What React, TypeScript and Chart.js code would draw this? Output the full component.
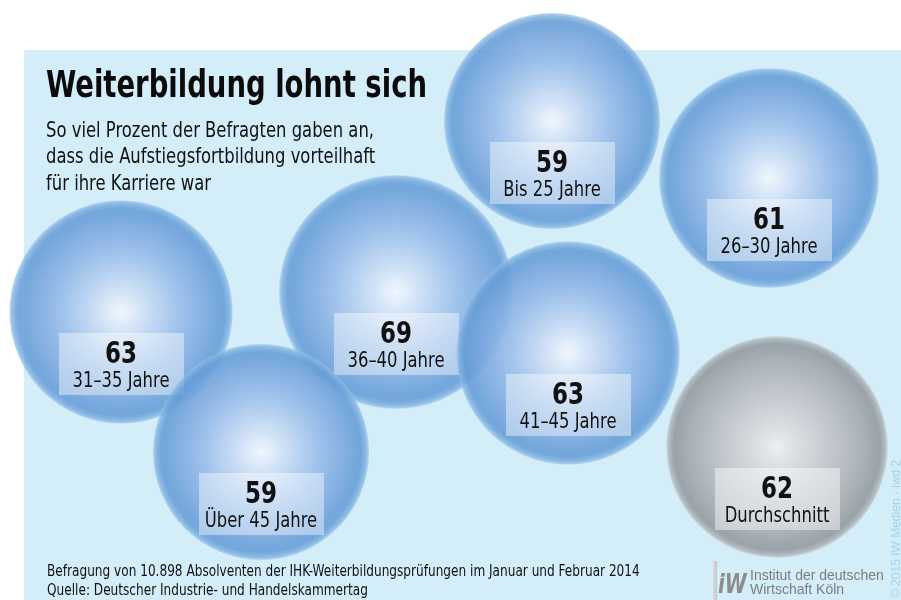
import React, { useEffect, useRef } from "react";
import { Chart, registerables } from "chart.js";

Chart.register(...registerables);

// ---------- data ----------
const categories = [
  "Bis 25 Jahre",
  "26–30 Jahre",
  "31–35 Jahre",
  "36–40 Jahre",
  "Über 45 Jahre",
  "41–45 Jahre",
  "Durchschnitt",
];
const values = [59, 61, 63, 69, 59, 63, 62];
const isAverage = [false, false, false, false, false, false, true];
// bubble centre positions in the 901 x 600 layout space
const posX = [552, 769, 121, 396, 261, 568, 777];
const posY = [121, 178, 312, 292, 452, 353, 447];

const title = "Weiterbildung lohnt sich";
const subtitleLines = [
  "So viel Prozent der Befragten gaben an,",
  "dass die Aufstiegsfortbildung vorteilhaft",
  "für ihre Karriere war",
];
const footnoteLines = [
  "Befragung von 10.898 Absolventen der IHK-Weiterbildungsprüfungen im Januar und Februar 2014",
  "Quelle: Deutscher Industrie- und Handelskammertag",
];
const logoLines = ["Institut der deutschen", "Wirtschaft Köln"];
const copyright = "© 2015 IW Medien · iwd 2";

// ---------- styling ----------
const W = 901;
const H = 600;
const RADIUS_K = 14.06; // bubble area proportional to value
const CONDENSED = '"Liberation Sans Narrow", "DejaVu Sans Condensed", "Liberation Sans", sans-serif';
const ARIAL = '"Liberation Sans", Arial, sans-serif';
const PANEL = "#d3edf9";

const radiusFor = (v: number) => RADIUS_K * Math.sqrt(v);

function drawScaled(
  ctx: CanvasRenderingContext2D,
  text: string,
  x: number,
  y: number,
  font: string,
  sx: number,
  align: "left" | "center" = "left"
) {
  ctx.save();
  ctx.font = font;
  const w = ctx.measureText(text).width * sx;
  const left = align === "center" ? x - w / 2 : x;
  ctx.translate(left, y);
  ctx.scale(sx, 1);
  ctx.textAlign = "left";
  ctx.textBaseline = "alphabetic";
  ctx.fillText(text, 0, 0);
  ctx.restore();
  return w;
}

function factors(ctx: CanvasRenderingContext2D) {
  ctx.save();
  ctx.font = `bold 37px ${CONDENSED}`;
  const bold = 381 / ctx.measureText(title).width;
  ctx.font = `21px ${CONDENSED}`;
  const reg = 328 / ctx.measureText(subtitleLines[0]).width;
  ctx.restore();
  return { bold, reg };
}

const BLUE_STOPS: [number, string][] = [
  [0.0, "rgba(241,247,253,0.97)"],
  [0.1, "rgba(224,236,250,0.95)"],
  [0.3, "rgba(192,214,242,0.93)"],
  [0.55, "rgba(152,189,233,0.92)"],
  [0.78, "rgba(122,168,222,0.9)"],
  [0.88, "rgba(107,160,217,0.9)"],
  [0.93, "rgba(102,157,214,0.88)"],
  [0.975, "rgba(124,174,223,0.8)"],
  [1.0, "rgba(150,193,232,0.6)"],
];
const GRAY_STOPS: [number, string][] = [
  [0.0, "rgba(238,241,243,1)"],
  [0.1, "rgba(226,230,233,1)"],
  [0.3, "rgba(208,213,217,0.97)"],
  [0.55, "rgba(188,193,198,0.95)"],
  [0.78, "rgba(168,174,179,0.94)"],
  [0.88, "rgba(155,162,168,0.93)"],
  [0.93, "rgba(149,156,163,0.92)"],
  [0.975, "rgba(170,176,182,0.85)"],
  [1.0, "rgba(195,200,205,0.65)"],
];

function bubbleFill(c: any) {
  const chart = c.chart;
  const raw = c.raw;
  const i = c.datasetIndex;
  const fallback = isAverage[i] ? "rgba(180,186,191,0.9)" : "rgba(140,182,228,0.88)";
  if (!raw || !chart.scales || !chart.scales.x || !chart.scales.y) return fallback;
  const x = chart.scales.x.getPixelForValue(raw.x);
  const y = chart.scales.y.getPixelForValue(raw.y);
  const r = radiusFor(values[i]);
  if (!isFinite(x) || !isFinite(y) || !isFinite(r)) return fallback;
  const g = chart.ctx.createRadialGradient(x, y, 0, x, y, r);
  (isAverage[i] ? GRAY_STOPS : BLUE_STOPS).forEach(([o, col]) => g.addColorStop(o, col));
  return g;
}

const decorPlugin = {
  id: "decor",
  beforeDraw(chart: any) {
    const ctx: CanvasRenderingContext2D = chart.ctx;
    ctx.save();
    ctx.fillStyle = "#ffffff";
    ctx.fillRect(0, 0, W, H);
    ctx.fillStyle = PANEL;
    ctx.fillRect(24, 50, W - 24, H - 50);
    ctx.restore();
  },
  afterDatasetDraw(chart: any, args: any) {
    const i = args.index;
    const ctx: CanvasRenderingContext2D = chart.ctx;
    const { bold, reg } = factors(ctx);
    const cx = chart.scales.x.getPixelForValue(posX[i]);
    const cy = chart.scales.y.getPixelForValue(posY[i]);
    ctx.save();
    ctx.font = `21px ${CONDENSED}`;
    const lw = ctx.measureText(categories[i]).width * reg;
    const bw = Math.max(125, lw + 10);
    const top = cy + 21;
    ctx.fillStyle = isAverage[i] ? "rgba(255,255,255,0.45)" : "rgba(255,255,255,0.42)";
    ctx.fillRect(Math.round(cx - bw / 2), Math.round(top), Math.round(bw), 62);
    ctx.fillStyle = "#111111";
    drawScaled(ctx, String(values[i]), cx, top + 30, `bold 31px ${CONDENSED}`, bold, "center");
    drawScaled(ctx, categories[i], cx, top + 54, `21px ${CONDENSED}`, reg, "center");
    ctx.restore();
  },
  afterDraw(chart: any) {
    const ctx: CanvasRenderingContext2D = chart.ctx;
    const { bold, reg } = factors(ctx);
    ctx.save();
    ctx.fillStyle = "#0b0b0b";
    drawScaled(ctx, title, 46, 97, `bold 37px ${CONDENSED}`, bold);
    ctx.fillStyle = "#111111";
    subtitleLines.forEach((t, k) => drawScaled(ctx, t, 46, 137 + k * 26.3, `21px ${CONDENSED}`, reg));
    footnoteLines.forEach((t, k) => drawScaled(ctx, t, 47, 576 + k * 19, `15.5px ${CONDENSED}`, reg));

    // logo
    const bar = ctx.createLinearGradient(713, 0, 718, 0);
    bar.addColorStop(0, "#dcdcdc");
    bar.addColorStop(1, "#bdbdbd");
    ctx.fillStyle = bar;
    ctx.fillRect(713, 561, 4, 39);
    ctx.fillStyle = "#8c8c8c";
    drawScaled(ctx, "iW", 718, 593, `italic bold 26px ${CONDENSED}`, 0.85);
    ctx.fillStyle = "#7d7d7d";
    ctx.font = `14px ${ARIAL}`;
    ctx.textAlign = "left";
    ctx.fillText(logoLines[0], 750, 580);
    ctx.fillText(logoLines[1], 750, 594);

    // copyright (vertical)
    ctx.translate(900, 598);
    ctx.rotate(-Math.PI / 2);
    ctx.fillStyle = "#a4d3f0";
    ctx.font = `12px ${ARIAL}`;
    ctx.fillText(copyright, 0, 0);
    ctx.restore();
  },
};

export default function App() {
  const ref = useRef<HTMLCanvasElement | null>(null);
  useEffect(() => {
    if (!ref.current) return;
    const n = categories.length;
    const chart = new Chart(ref.current, {
      type: "bubble",
      data: {
        datasets: categories.map((c, i) => ({
          label: c,
          data: [{ x: posX[i], y: posY[i] }],
          order: n - i,
          clip: false as any,
        })),
      },
      options: {
        responsive: false,
        devicePixelRatio: 1,
        animation: false,
        events: [],
        layout: { padding: 0, autoPadding: false },
        elements: {
          point: {
            radius: (c: any) => radiusFor(values[c.datasetIndex]),
            backgroundColor: bubbleFill as any,
            borderWidth: 0,
            borderColor: "rgba(0,0,0,0)",
          },
        },
        scales: {
          x: { type: "linear", min: 0, max: W, display: false },
          y: { type: "linear", min: 0, max: H, reverse: true, display: false },
        },
        plugins: {
          legend: { display: false },
          tooltip: { enabled: false },
          title: { display: false },
        },
      },
      plugins: [decorPlugin],
    });
    return () => chart.destroy();
  }, []);
  return (
    <div style={{ position: "absolute", left: 0, top: 0, width: W, height: H }}>
      <canvas ref={ref} width={W} height={H} style={{ display: "block" }} />
    </div>
  );
}
